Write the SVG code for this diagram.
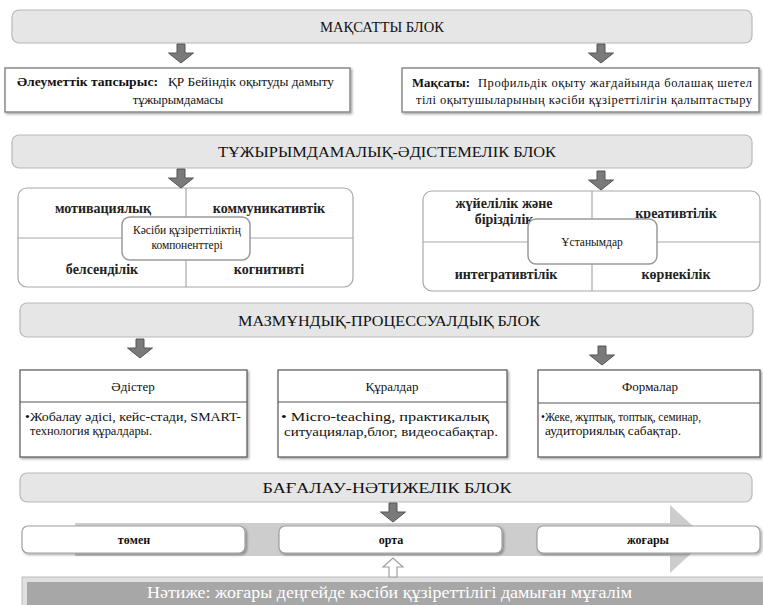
<svg xmlns="http://www.w3.org/2000/svg" width="763" height="605" viewBox="0 0 763 605" font-family="'Liberation Serif', 'Times New Roman', Tinos, 'DejaVu Serif', serif">
<style>
text{font-family:'Liberation Serif','Times New Roman',Tinos,'DejaVu Serif',serif;fill:#111}
.bar{fill:#e6e6e6;stroke:#b8b8b8;stroke-width:1.2}
.bt{font-size:15.5px;text-anchor:middle}
.tb{fill:#fff;stroke:#8a8a8a;stroke-width:1.5}
.t12{font-size:12.5px}
.b{font-weight:bold}
.quad{fill:#fff;stroke:#a8a8a8;stroke-width:1.2}
.qline{stroke:#a8a8a8;stroke-width:1.2}
.ql{font-size:14px;font-weight:bold;text-anchor:middle;fill:#222}
.cbox{fill:#fff;stroke:#9a9a9a;stroke-width:1.5}
.cb{font-size:11.5px;text-anchor:middle}
.box{fill:#fff;stroke:#555;stroke-width:1.2}
.ht{font-size:13px;text-anchor:middle}
.body{font-size:12.5px}
.lvl{fill:#fff;stroke:#a0a0a0;stroke-width:1.2}
.lt{font-size:12px;font-weight:bold;text-anchor:middle}
.arr{fill:#7a7a7a;stroke:#555;stroke-width:1}
</style>
<defs>
<path id="down" d="M-4,0 H4 V9 H12.5 L0,19 L-12.5,9 H-4 Z"/>
<filter id="sh" x="-5%" y="-10%" width="115%" height="130%">
<feDropShadow dx="1.5" dy="1.5" stdDeviation="1" flood-color="#000" flood-opacity="0.35"/>
</filter>
</defs>

<g id="bar1">
<rect class="bar" x="12" y="10" width="740" height="33" rx="7"/>
<text class="bt" x="382" y="32" textLength="124" lengthAdjust="spacingAndGlyphs">МАҚСАТТЫ БЛОК</text>
</g>
<g id="social">
<rect class="tb" x="5" y="68" width="345" height="44" filter="url(#sh)"/>
<text class="t12 b" x="17" y="86" textLength="141" lengthAdjust="spacingAndGlyphs">Әлеуметтік тапсырыс:</text>
<text class="t12" x="168" y="86" textLength="166" lengthAdjust="spacingAndGlyphs">ҚР Бейіндік оқытуды дамыту</text>
<text class="t12" x="178" y="104" text-anchor="middle">тұжырымдамасы</text>
</g>
<g id="goal">
<rect class="tb" x="402" y="68" width="357" height="44" filter="url(#sh)"/>
<text class="t12 b" x="412" y="87" textLength="58" lengthAdjust="spacingAndGlyphs">Мақсаты:</text>
<text class="t12" x="478" y="87" textLength="274" lengthAdjust="spacing">Профильдік оқыту жағдайында болашақ шетел</text>
<text class="t12" x="416" y="104" textLength="336" lengthAdjust="spacing">тілі оқытушыларының кәсіби құзіреттілігін қалыптастыру</text>
</g>

<g id="bar2">
<rect class="bar" x="12" y="135" width="740" height="33" rx="7"/>
<text class="bt" x="387" y="157" textLength="338" lengthAdjust="spacingAndGlyphs">ТҰЖЫРЫМДАМАЛЫҚ-ӘДІСТЕМЕЛІК  БЛОК</text>
</g>
<g id="components">
<rect class="quad" x="18" y="188" width="335" height="99" rx="9"/>
<line class="qline" x1="186" y1="188" x2="186" y2="287"/>
<line class="qline" x1="18" y1="238" x2="353" y2="238"/>
<text class="ql" x="103" y="213">мотивациялық</text>
<text class="ql" x="269" y="213">коммуникативтік</text>
<text class="ql" x="102" y="274">белсенділік</text>
<text class="ql" x="269" y="274">когнитивті</text>
<rect class="cbox" x="122" y="217" width="128" height="43" rx="8"/>
<text class="cb" x="187" y="234">Кәсіби құзіреттіліктің</text>
<text class="cb" x="187" y="249">компоненттері</text>
</g>
<g id="principles">
<rect class="quad" x="423" y="191" width="337" height="100" rx="9"/>
<line class="qline" x1="592" y1="191" x2="592" y2="291"/>
<line class="qline" x1="423" y1="242" x2="760" y2="242"/>
<text class="ql" x="504" y="208">жүйелілік және</text>
<text class="ql" x="504" y="224">бірізділік</text>
<text class="ql" x="676" y="218">креативтілік</text>
<text class="ql" x="506" y="279">интегративтілік</text>
<text class="ql" x="676" y="279">көрнекілік</text>
<rect class="cbox" x="528" y="219" width="129" height="45" rx="8"/>
<text class="cb" x="592" y="246">Ұстанымдар</text>
</g>

<g id="bar3">
<rect class="bar" x="20" y="303" width="733" height="34" rx="7"/>
<text class="bt" x="389" y="326" textLength="302" lengthAdjust="spacingAndGlyphs">МАЗМҰНДЫҚ-ПРОЦЕССУАЛДЫҚ БЛОК</text>
</g>
<g id="methods">
<rect class="box" x="20" y="370" width="227" height="87" filter="url(#sh)"/>
<line x1="20" y1="402" x2="247" y2="402" stroke="#555" stroke-width="1.2"/>
<text class="ht" x="133" y="391">Әдістер</text>
<text class="body" x="25" y="421" textLength="216" lengthAdjust="spacingAndGlyphs">•Жобалау әдісі, кейс-стади, SMART-</text>
<text class="body" x="30" y="435" textLength="122" lengthAdjust="spacingAndGlyphs">технология құралдары.</text>
</g>
<g id="tools">
<rect class="box" x="278" y="370" width="229" height="87" filter="url(#sh)"/>
<line x1="278" y1="402" x2="507" y2="402" stroke="#555" stroke-width="1.2"/>
<text class="ht" x="392" y="391">Құралдар</text>
<text class="body" x="281" y="421" textLength="208" lengthAdjust="spacingAndGlyphs">• Micro-teaching, практикалық</text>
<text class="body" x="284" y="436" textLength="214" lengthAdjust="spacingAndGlyphs">ситуациялар,блог, видеосабақтар.</text>
</g>
<g id="forms">
<rect class="box" x="538" y="370" width="222" height="87" filter="url(#sh)"/>
<line x1="538" y1="403" x2="760" y2="403" stroke="#555" stroke-width="1.2"/>
<text class="ht" x="650" y="391">Формалар</text>
<text class="body" x="541" y="421" textLength="160" lengthAdjust="spacingAndGlyphs">•Жеке, жұптық, топтық, семинар,</text>
<text class="body" x="545" y="435" textLength="136" lengthAdjust="spacingAndGlyphs">аудиториялық сабақтар.</text>
</g>

<g id="bar4">
<rect class="bar" x="20" y="473" width="732" height="29" rx="7"/>
<text class="bt" x="387" y="493" textLength="249" lengthAdjust="spacingAndGlyphs">БАҒАЛАУ-НӘТИЖЕЛІК  БЛОК</text>
</g>
<g id="scale">
<path d="M75,523 H670 V505 L707,539 L670,573 V556 H75 Z" fill="#cdcdcd"/>
</g>
<g id="low">
<rect class="lvl" x="22" y="526" width="223" height="27" rx="6" filter="url(#sh)"/>
<text class="lt" x="134" y="544">төмен</text>
</g>
<g id="mid">
<rect class="lvl" x="279" y="526" width="223" height="27" rx="6" filter="url(#sh)"/>
<text class="lt" x="391" y="544">орта</text>
</g>
<g id="high">
<rect class="lvl" x="537" y="526" width="223" height="27" rx="6" filter="url(#sh)"/>
<text class="lt" x="648" y="544">жоғары</text>
</g>
<g id="result">
<rect x="22" y="577" width="760" height="40" fill="#e0e0e0" stroke="#bcbcbc" stroke-width="1"/>
<rect x="27" y="582" width="750" height="30" fill="#a7a7a7"/>
<text x="147" y="598" font-size="17" textLength="485" lengthAdjust="spacingAndGlyphs" style="fill:#fff">Нәтиже: жоғары деңгейде кәсіби құзіреттілігі дамыған мұғалім</text>
</g>

<g id="connectors">
<use href="#down" class="arr" x="181" y="44"/>
<use href="#down" class="arr" x="601" y="44"/>
<use href="#down" class="arr" x="181" y="169"/>
<use href="#down" class="arr" x="601" y="171"/>
<use href="#down" class="arr" x="140" y="339"/>
<use href="#down" class="arr" x="602" y="346"/>
<use href="#down" class="arr" x="393" y="503"/>
<path d="M389,577 V567 H383 L393,558 L403,567 H397 V577 Z" fill="#fff" stroke="#a0a0a0" stroke-width="1.2"/>
</g>
</svg>
